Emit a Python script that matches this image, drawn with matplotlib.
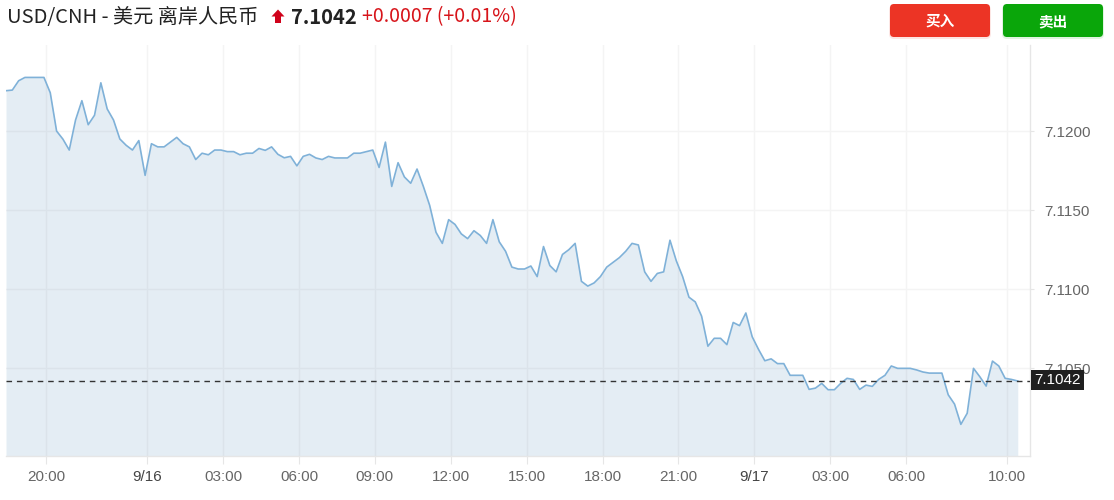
import matplotlib
matplotlib.use("Agg")
import matplotlib.pyplot as plt
from matplotlib.patches import FancyBboxPatch, Polygon, Rectangle
import pandas as pd

plt.rcParams['font.family'] = ['Liberation Sans', 'DejaVu Sans']

# ---------------- data ----------------
start_time = "2019-09-15 18:25"
prices = [
    7.12255, 7.12259, 7.12318, 7.12339, 7.12339, 7.12339, 7.12339, 7.12242, 7.12000, 7.11949,
    7.11880, 7.12070, 7.12192, 7.12040, 7.12100, 7.12305, 7.12140, 7.12070, 7.11950, 7.11910,
    7.11880, 7.11940, 7.11720, 7.11920, 7.11900, 7.11900, 7.11930, 7.11960, 7.11920, 7.11900,
    7.11820, 7.11860, 7.11850, 7.11880, 7.11880, 7.11870, 7.11870, 7.11850, 7.11860, 7.11860,
    7.11890, 7.11878, 7.11900, 7.11853, 7.11831, 7.11840, 7.11780, 7.11840, 7.11853, 7.11830,
    7.11820, 7.11840, 7.11830, 7.11830, 7.11830, 7.11860, 7.11860, 7.11870, 7.11880, 7.11770,
    7.11930, 7.11650, 7.11800, 7.11710, 7.11670, 7.11760, 7.11650, 7.11530, 7.11360, 7.11290,
    7.11440, 7.11410, 7.11350, 7.11320, 7.11370, 7.11340, 7.11290, 7.11440, 7.11300, 7.11240,
    7.11140, 7.11128, 7.11128, 7.11147, 7.11080, 7.11270, 7.11150, 7.11110, 7.11220, 7.11250,
    7.11290, 7.11050, 7.11020, 7.11040, 7.11080, 7.11140, 7.11170, 7.11200, 7.11240, 7.11290,
    7.11280, 7.11110, 7.11050, 7.11100, 7.11110, 7.11310, 7.11180, 7.11080, 7.10950, 7.10920,
    7.10830, 7.10640, 7.10690, 7.10690, 7.10650, 7.10790, 7.10770, 7.10850, 7.10700, 7.10620,
    7.10548, 7.10560, 7.10530, 7.10530, 7.10456, 7.10456, 7.10456, 7.10367, 7.10375, 7.10405,
    7.10365, 7.10365, 7.10405, 7.10437, 7.10430, 7.10367, 7.10394, 7.10386, 7.10430, 7.10456,
    7.10515, 7.10500, 7.10500, 7.10500, 7.10490, 7.10477, 7.10470, 7.10470, 7.10470, 7.10333,
    7.10274, 7.10146, 7.10216, 7.10500, 7.10447, 7.10388, 7.10546, 7.10515, 7.10437, 7.10430,
    7.10420,
]
last_price = 7.1042
title_text = "USD/CNH - 美元 离岸人民币"
price_text = "7.1042"
change_text = "+0.0007 (+0.01%)"
buy_label = "买入"
sell_label = "卖出"

x_tick_times = [
    "2019-09-15 20:00", "2019-09-16 00:00", "2019-09-16 03:00", "2019-09-16 06:00",
    "2019-09-16 09:00", "2019-09-16 12:00", "2019-09-16 15:00", "2019-09-16 18:00",
    "2019-09-16 21:00", "2019-09-17 00:00", "2019-09-17 03:00", "2019-09-17 06:00",
    "2019-09-17 10:00",
]
x_tick_labels = ["20:00", "9/16", "03:00", "06:00", "09:00", "12:00", "15:00",
                 "18:00", "21:00", "9/17", "03:00", "06:00", "10:00"]
y_ticks = [7.1050, 7.1100, 7.1150, 7.1200]

# ---------------- figure ----------------
W, H = 1114, 500
fig = plt.figure(figsize=(W / 100, H / 100), dpi=100)
fig.patch.set_facecolor('white')

times = pd.date_range(start_time, periods=len(prices), freq="15min")
y_bottom, y_top = 7.09946, 7.12544

ax = fig.add_axes([6 / W, 44 / H, 1024 / W, 411 / H])
ax.fill_between(times, prices, y_bottom, color=(70 / 255, 130 / 255, 180 / 255),
                alpha=0.14, lw=0, zorder=2)
ax.plot(times, prices, color='#7fb1d8', lw=1.2, zorder=3)
ax.axhline(last_price, color='#333333', lw=1, dashes=(4, 3.5), zorder=4)

ax.set_xlim(pd.Timestamp(start_time), pd.Timestamp("2019-09-17 10:54"))
ax.set_ylim(y_bottom, y_top)
ax.set_xticks(pd.to_datetime(x_tick_times))
ax.set_xticklabels(x_tick_labels)
ax.yaxis.tick_right()
ax.set_yticks(y_ticks)
ax.set_yticklabels([f"{v:.4f}" for v in y_ticks])
ax.grid(True, color='#f4f4f4', lw=1, zorder=0)
ax.set_axisbelow(True)
for s in ['left', 'top']:
    ax.spines[s].set_visible(False)
for s in ['right', 'bottom']:
    ax.spines[s].set_color('#e6e6e6')
    ax.spines[s].set_linewidth(1)
ax.tick_params(axis='x', length=6, color='#e6e6e6', labelsize=11, labelcolor='#666666', pad=4)
ax.tick_params(axis='y', length=3, color='#e6e6e6', labelsize=11, labelcolor='#666666', pad=7)
for lbl in ax.get_xticklabels():
    if '/' in lbl.get_text():
        lbl.set_color('#444444')

# ---------------- overlay (pixel coordinates) ----------------
ov = fig.add_axes([0, 0, 1, 1], zorder=10)
ov.set_xlim(0, W)
ov.set_ylim(H, 0)
ov.axis('off')

cjk = ['Noto Sans CJK SC', 'DejaVu Sans']
ov.text(7, 17, title_text, fontsize=14.5, color='#222222', va='center', ha='left', family=cjk)
ov.add_patch(Polygon([(278, 9.5), (284.5, 16.5), (281, 16.5), (281, 23), (275, 23),
                      (275, 16.5), (271.5, 16.5)], closed=True, fc='#d0021b', ec='none'))
ov.text(291, 17, price_text, fontsize=14.5, color='#222222', va='center', ha='left',
        fontweight='bold', family=cjk)
ov.text(362, 17, change_text, fontsize=14, color='#d7141a', va='center', ha='left',
        fontweight='medium', family=cjk)

for x0, col, lab in [(890, '#ec3425', buy_label), (1003, '#0aa60a', sell_label)]:
    ov.add_patch(FancyBboxPatch((x0 - 1, 5), 102, 34, boxstyle="round,pad=0,rounding_size=5",
                                fc=col, ec='none', alpha=0.12))
    ov.add_patch(FancyBboxPatch((x0, 4), 100, 33, boxstyle="round,pad=0,rounding_size=4",
                                fc=col, ec='none'))
    ov.text(x0 + 50, 21, lab, fontsize=10.5, color='white', fontweight='bold',
            ha='center', va='center', family=cjk)

ov.add_patch(Rectangle((1031, 370), 53, 20, fc='#1f1f1f', ec='none'))
ov.text(1057.5, 380.5, price_text, fontsize=11, color='white', ha='center', va='center',
        fontweight='medium')

fig.savefig("out.png", dpi=100)
